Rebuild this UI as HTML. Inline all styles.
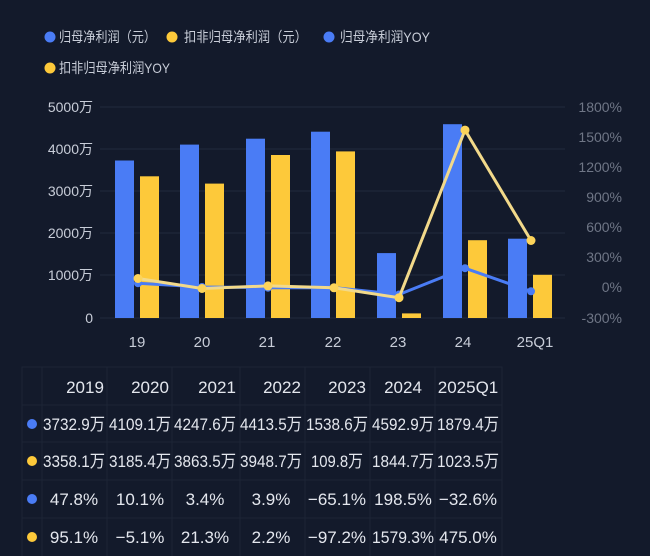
<!DOCTYPE html>
<html><head><meta charset="utf-8"><style>
body{margin:0;background:#131a2b;width:650px;height:556px;overflow:hidden;font-family:"Liberation Sans","Noto Sans CJK SC",sans-serif;}
svg{position:absolute;left:0;top:0}
</style></head><body>
<svg width="650" height="556" viewBox="0 0 650 556" font-family="Liberation Sans, Noto Sans CJK SC, sans-serif">
<rect width="650" height="556" fill="#131a2b"/>
<!-- legend -->
<g font-size="14" fill="#c8cdd8">
<circle cx="50" cy="37" r="5.5" fill="#4a7cf5"/><text x="59" y="42" textLength="97" lengthAdjust="spacingAndGlyphs">归母净利润（元）</text>
<circle cx="172" cy="37" r="5.5" fill="#fdc93a"/><text x="184" y="42" textLength="123" lengthAdjust="spacingAndGlyphs">扣非归母净利润（元）</text>
<circle cx="329" cy="37" r="5.5" fill="#4a7cf5"/><text x="340" y="42" textLength="90" lengthAdjust="spacingAndGlyphs">归母净利润YOY</text>
<circle cx="50" cy="68" r="5.5" fill="#fdc93a"/><text x="59" y="73" textLength="111" lengthAdjust="spacingAndGlyphs">扣非归母净利润YOY</text>
</g>
<!-- gridlines -->
<g stroke="#222a3c" stroke-width="1">
<line x1="100" y1="107" x2="565" y2="107"/><line x1="100" y1="149" x2="565" y2="149"/>
<line x1="100" y1="191" x2="565" y2="191"/><line x1="100" y1="233" x2="565" y2="233"/>
<line x1="100" y1="275" x2="565" y2="275"/><line x1="100" y1="318" x2="565" y2="318"/>
</g>
<g font-size="14" fill="#c8cdd8" text-anchor="end">
<text x="93" y="112">5000万</text><text x="93" y="154">4000万</text><text x="93" y="196">3000万</text>
<text x="93" y="238">2000万</text><text x="93" y="280">1000万</text><text x="93" y="323">0</text>
</g>
<g font-size="14" fill="#6f7686" text-anchor="end">
<text x="622" y="112">1800%</text><text x="622" y="142">1500%</text><text x="622" y="172">1200%</text>
<text x="622" y="202">900%</text><text x="622" y="232">600%</text><text x="622" y="262">300%</text>
<text x="622" y="292">0%</text><text x="622" y="323">-300%</text>
</g>
<!-- bars -->
<g fill="#4a7cf5">
<rect x="115" y="160.5" width="19" height="157.5"/>
<rect x="180" y="144.6" width="19" height="173.4"/>
<rect x="246" y="138.7" width="19" height="179.3"/>
<rect x="311" y="131.7" width="19" height="186.3"/>
<rect x="377" y="253.1" width="19" height="64.9"/>
<rect x="443" y="124.2" width="19" height="193.8"/>
<rect x="508" y="238.7" width="19" height="79.3"/>
</g>
<g fill="#fdc93a">
<rect x="140" y="176.3" width="19" height="141.7"/>
<rect x="205" y="183.6" width="19" height="134.4"/>
<rect x="271" y="155" width="19" height="163"/>
<rect x="336" y="151.4" width="19" height="166.6"/>
<rect x="402" y="313.4" width="19" height="4.6"/>
<rect x="468" y="240.2" width="19" height="77.8"/>
<rect x="533" y="274.8" width="19" height="43.2"/>
</g>
<!-- lines -->
<polyline fill="none" stroke="#4a7cf5" stroke-width="3" points="138,283.2 202,287 268,287.7 334,287.6 399,294.5 465,268.2 531,291.3"/>
<g fill="#4a7cf5"><circle cx="138" cy="283.2" r="4"/><circle cx="202" cy="287" r="4"/><circle cx="268" cy="287.7" r="4"/><circle cx="334" cy="287.6" r="4"/><circle cx="399" cy="294.5" r="4"/><circle cx="465" cy="268.2" r="4"/><circle cx="531" cy="291.3" r="4"/></g>
<polyline fill="none" stroke="#f2d98a" stroke-width="3" points="138,278.5 202,288.5 268,285.9 334,287.8 399,297.7 465,130.1 531,240.5"/>
<g fill="#fdd45a"><circle cx="138" cy="278.5" r="4.5"/><circle cx="202" cy="288.5" r="4.5"/><circle cx="268" cy="285.9" r="4.5"/><circle cx="334" cy="287.8" r="4.5"/><circle cx="399" cy="297.7" r="4.5"/><circle cx="465" cy="130.1" r="4.5"/><circle cx="531" cy="240.5" r="4.5"/></g>
<!-- x labels -->
<g font-size="15" fill="#c8cdd8" text-anchor="middle">
<text x="137" y="347">19</text><text x="202" y="347">20</text><text x="267" y="347">21</text>
<text x="333" y="347">22</text><text x="398" y="347">23</text><text x="463" y="347">24</text><text x="535" y="347">25Q1</text>
</g>
<!-- table -->
<g stroke="#1c2436" stroke-width="1" fill="none">
<rect x="22" y="367" width="480" height="200"/>
<line x1="22" y1="405" x2="502" y2="405"/><line x1="22" y1="442" x2="502" y2="442"/>
<line x1="22" y1="480" x2="502" y2="480"/><line x1="22" y1="518" x2="502" y2="518"/>
<line x1="42" y1="367" x2="42" y2="556"/><line x1="107" y1="367" x2="107" y2="556"/>
<line x1="172" y1="367" x2="172" y2="556"/><line x1="240" y1="367" x2="240" y2="556"/>
<line x1="305" y1="367" x2="305" y2="556"/><line x1="370" y1="367" x2="370" y2="556"/>
<line x1="435" y1="367" x2="435" y2="556"/>
</g>
<g font-size="17" fill="#e4e7ee" text-anchor="middle" lengthAdjust="spacingAndGlyphs">
<text x="85" y="393">2019</text><text x="150" y="393">2020</text><text x="217" y="393">2021</text><text x="282" y="393">2022</text><text x="347" y="393">2023</text><text x="403" y="393">2024</text><text x="468" y="393">2025Q1</text>
</g>
<g font-size="17" fill="#e4e7ee" text-anchor="middle">
<text x="74" y="430" textLength="62" lengthAdjust="spacingAndGlyphs">3732.9万</text><text x="140" y="430" textLength="62" lengthAdjust="spacingAndGlyphs">4109.1万</text><text x="205" y="430" textLength="62" lengthAdjust="spacingAndGlyphs">4247.6万</text><text x="271" y="430" textLength="62" lengthAdjust="spacingAndGlyphs">4413.5万</text><text x="337" y="430" textLength="62" lengthAdjust="spacingAndGlyphs">1538.6万</text><text x="403" y="430" textLength="62" lengthAdjust="spacingAndGlyphs">4592.9万</text><text x="468" y="430" textLength="62" lengthAdjust="spacingAndGlyphs">1879.4万</text>
<text x="74" y="467" textLength="62" lengthAdjust="spacingAndGlyphs">3358.1万</text><text x="140" y="467" textLength="62" lengthAdjust="spacingAndGlyphs">3185.4万</text><text x="205" y="467" textLength="62" lengthAdjust="spacingAndGlyphs">3863.5万</text><text x="271" y="467" textLength="62" lengthAdjust="spacingAndGlyphs">3948.7万</text><text x="337" y="467" textLength="52" lengthAdjust="spacingAndGlyphs">109.8万</text><text x="403" y="467" textLength="62" lengthAdjust="spacingAndGlyphs">1844.7万</text><text x="468" y="467" textLength="62" lengthAdjust="spacingAndGlyphs">1023.5万</text>
<text x="74" y="505">47.8%</text><text x="140" y="505">10.1%</text><text x="205" y="505">3.4%</text><text x="271" y="505">3.9%</text><text x="337" y="505">−65.1%</text><text x="403" y="505">198.5%</text><text x="468" y="505">−32.6%</text>
<text x="74" y="543">95.1%</text><text x="140" y="543">−5.1%</text><text x="205" y="543">21.3%</text><text x="271" y="543">2.2%</text><text x="337" y="543">−97.2%</text><text x="403" y="543" textLength="62" lengthAdjust="spacingAndGlyphs">1579.3%</text><text x="468" y="543">475.0%</text>
</g>
<circle cx="32" cy="424" r="5" fill="#4a7cf5"/><circle cx="32" cy="461" r="5" fill="#fdc93a"/>
<circle cx="32" cy="499" r="5" fill="#4a7cf5"/><circle cx="32" cy="537" r="5" fill="#fdc93a"/>
</svg>
</body></html>
